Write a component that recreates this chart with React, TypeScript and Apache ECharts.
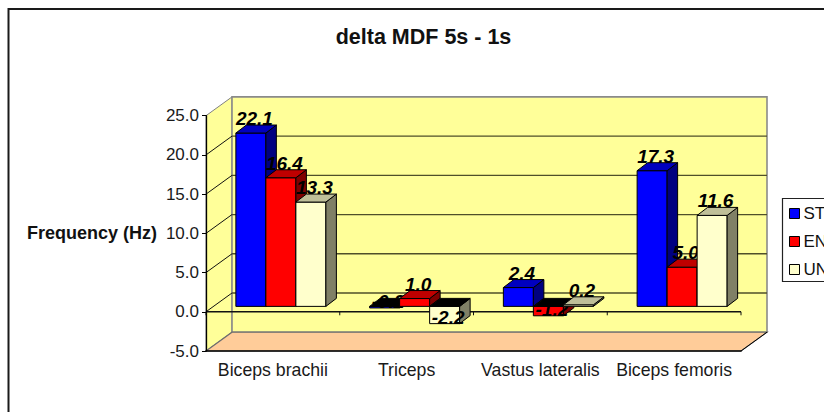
import React, { useEffect, useRef } from "react";
import * as echarts from "echarts";

const categories = ["Biceps brachii", "Triceps", "Vastus lateralis", "Biceps femoris"];
const stValues = [22.1, -0.2, 2.4, 17.3];
const enValues = [16.4, 1.0, -1.2, 5.0];
const unValues = [13.3, -2.2, 0.2, 11.6];
const gridTicks = [-5, 0, 5, 10, 15, 20, 25];

const FONT = '"Liberation Sans", Arial, sans-serif';
const WALL_DX = 26;
const WALL_DY = 18.8;
const BAR_DX = 8;
const BAR_DY = 5.4;
const DEPTH_DX = 10.5;
const DEPTH_DY = 8;
const BAR_RATIO = 0.2243;

const poly = (points: number[][], fill: string, stroke = "#000", lineWidth = 1) => ({
  type: "polygon",
  silent: true,
  shape: { points },
  style: { fill, stroke, lineWidth },
});
const seg = (x1: number, y1: number, x2: number, y2: number, stroke: string, lineWidth = 1.3) => ({
  type: "line",
  silent: true,
  shape: { x1, y1, x2, y2 },
  style: { stroke, lineWidth },
});

function wallsItem(params: any, api: any) {
  const cs = params.coordSys;
  const l = cs.x, r = cs.x + cs.width, t = cs.y, b = cs.y + cs.height;
  const children: any[] = [
    poly([[l, t], [l + WALL_DX, t - WALL_DY], [l + WALL_DX, b - WALL_DY], [l, b]], "#FFFF99", "#808080", 1),
    poly([[l + WALL_DX, t - WALL_DY], [r + WALL_DX, t - WALL_DY], [r + WALL_DX, b - WALL_DY], [l + WALL_DX, b - WALL_DY]], "#FFFF99", "#8a8a8a", 1.6),
    poly([[l, b], [l + WALL_DX, b - WALL_DY], [r + WALL_DX, b - WALL_DY], [r, b]], "#FFCC99", "#6e6e6e", 1.2),
    seg(r, b, r + WALL_DX, b - WALL_DY, "#000", 1),
  ];
  gridTicks.filter((v) => v > -5 && v < 25).forEach((v) => {
    const y = api.coord([0, v])[1];
    children.push(seg(l + WALL_DX, y - WALL_DY, r + WALL_DX, y - WALL_DY, "#4f4f2a", 1.3));
    children.push(seg(l, y, l + WALL_DX, y - WALL_DY, "#111", 1));
  });
  const zero = api.coord([0, 0])[1];
  children.push(seg(l, zero, r, zero, "#111", 1.6));
  for (let i = 0; i <= categories.length; i++) {
    const x = l + (cs.width * i) / categories.length;
    children.push(seg(x, zero, x, zero + 3.5, "#111", 1));
  }
  return { type: "group", children };
}

function barItem(seriesIndex: number, colors: string[]) {
  return (params: any, api: any) => {
    const cat = api.value(0);
    const val = api.value(1);
    const base = api.coord([cat, 0]);
    const tip = api.coord([cat, val]);
    const band = api.size([1, 0])[0];
    const w = band * BAR_RATIO;
    const x0 = base[0] - w * 1.5 + seriesIndex * w + BAR_DX;
    const x1 = x0 + w;
    const yBase = base[1] - BAR_DY;
    const yTip = tip[1] - BAR_DY;
    const yTop = Math.min(yBase, yTip);
    const yBot = Math.max(yBase, yTip);
    const neg = val < 0;
    const topFill = neg ? "#000" : colors[1];
    const cx = (x0 + x1) / 2 + 3.5;
    const labelY = neg ? yBot + 3 : yTop - DEPTH_DY + 3;
    return {
      type: "group",
      children: [
        poly([[x0, yTop], [x1, yTop], [x1, yBot], [x0, yBot]], colors[0]),
        poly([[x1, yTop], [x1 + DEPTH_DX, yTop - DEPTH_DY], [x1 + DEPTH_DX, yBot - DEPTH_DY], [x1, yBot]], colors[2]),
        poly([[x0, yTop], [x0 + DEPTH_DX, yTop - DEPTH_DY], [x1 + DEPTH_DX, yTop - DEPTH_DY], [x1, yTop]], topFill),
        {
          type: "text",
          silent: true,
          style: {
            text: val.toFixed(1),
            x: cx,
            y: labelY,
            textAlign: "center",
            textVerticalAlign: "bottom",
            font: `italic bold 19px ${FONT}`,
            fill: "#000",
          },
        },
      ],
    };
  };
}

const barSeries = (name: string, idx: number, values: number[], colors: string[]) => ({
  name,
  type: "custom",
  z: 3 + idx,
  clip: false,
  itemStyle: { color: colors[0], borderColor: "#000", borderWidth: 1 },
  encode: { x: 0, y: 1 },
  data: values.map((v, i) => [i, v]),
  renderItem: barItem(idx, colors),
});

export default function App() {
  const ref = useRef<HTMLDivElement>(null);
  useEffect(() => {
    document.body.style.margin = "0";
    const chart = echarts.init(ref.current!, undefined, { renderer: "svg" });
    chart.setOption({
      animation: false,
      backgroundColor: "#fff",
      title: {
        text: "delta MDF 5s - 1s",
        left: 418.5,
        top: 21,
        textAlign: "center",
        textStyle: { fontFamily: FONT, fontWeight: "bold", fontSize: 21.5, color: "#111" },
      },
      grid: { left: 206, right: 83, top: 115.7, bottom: 61 },
      xAxis: {
        type: "category",
        data: categories,
        position: "bottom",
        z: 6,
        axisLine: { onZero: false, lineStyle: { color: "#000", width: 1.5 } },
        axisTick: { alignWithLabel: false, length: 4, lineStyle: { color: "#000" } },
        axisLabel: { interval: 0, fontFamily: FONT, fontSize: 17.7, color: "#1a1a1a", margin: 10 },
      },
      yAxis: {
        type: "value",
        min: -5,
        max: 25,
        interval: 5,
        z: 6,
        name: "Frequency (Hz)",
        nameLocation: "middle",
        nameRotate: 0,
        nameGap: 49,
        nameTextStyle: { fontFamily: FONT, fontWeight: "bold", fontSize: 18, color: "#111", align: "right", verticalAlign: "middle" },
        splitLine: { show: false },
        axisLine: { show: true, lineStyle: { color: "#000", width: 1.3 } },
        axisTick: { show: true, length: 4, lineStyle: { color: "#000" } },
        axisLabel: { fontFamily: FONT, fontSize: 17, color: "#1a1a1a", margin: 7, formatter: (v: number) => v.toFixed(1) },
      },
      legend: {
        orient: "vertical",
        left: 789,
        top: 205,
        padding: 0,
        itemWidth: 10,
        itemHeight: 10,
        itemGap: 11,
        icon: "rect",
        selectedMode: false,
        data: ["ST", "EN", "UN"],
        itemStyle: { borderColor: "#000", borderWidth: 1 },
        textStyle: { fontFamily: FONT, fontSize: 17, color: "#111", padding: [0, 0, 0, -1] },
      },
      graphic: [
        { type: "rect", silent: true, z: -1, shape: { x: 8.5, y: 9, width: 900, height: 500 }, style: { fill: "none", stroke: "#1a1a1a", lineWidth: 2 } },
        { type: "rect", silent: true, z: -1, shape: { x: 782.5, y: 198.5, width: 80, height: 83 }, style: { fill: "#fff", stroke: "#222", lineWidth: 1.2 } },
      ],
      series: [
        { type: "custom", z: 1, silent: true, clip: false, encode: { x: 0, y: 1 }, data: [[0, 0]], renderItem: wallsItem, tooltip: { show: false } },
        barSeries("ST", 0, stValues, ["#0000FF", "#0000BF", "#000080"]),
        barSeries("EN", 1, enValues, ["#FF0000", "#BF0000", "#800000"]),
        barSeries("UN", 2, unValues, ["#FFFFCC", "#BFBF99", "#808066"]),
      ],
    });
    return () => chart.dispose();
  }, []);
  return <div ref={ref} style={{ position: "fixed", left: 0, top: 0, width: 824, height: 412 }} />;
}
